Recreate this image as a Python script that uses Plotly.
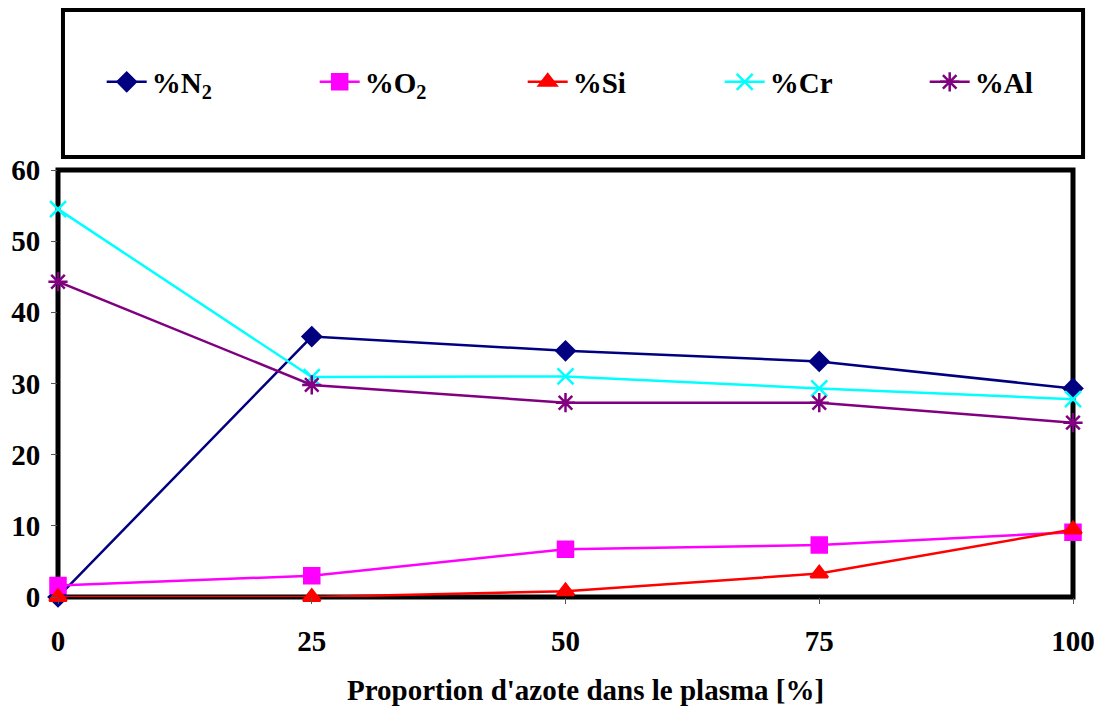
import plotly.graph_objects as go

x_vals = [0, 25, 50, 75, 100]
n2 = [0.0, 36.6, 34.6, 33.1, 29.3]
o2 = [1.6, 3.0, 6.7, 7.3, 9.1]
si = [0.0, 0.0, 0.8, 3.3, 9.5]
cr = [54.5, 30.9, 31.0, 29.3, 27.8]
al = [44.3, 29.8, 27.3, 27.3, 24.5]
x_title = "Proportion d'azote dans le plasma [%]"

series = [
    ("%N<sub>2</sub>", n2, "#000080", "diamond", 14),
    ("%O<sub>2</sub>", o2, "#FF00FF", "square", 15),
    ("%Si", si, "#FF0000", "triangle-up", 15),
    ("%Cr", cr, "#00FFFF", "x-thin-open", 16),
    ("%Al", al, "#800080", "asterisk-open", 16),
]
legend_centers = [127, 340, 548, 745, 950]  # page px of legend symbols

FONT = "Liberation Serif"
W, H = 1102, 709
OFF = 8  # browser body margin

fig = go.Figure()
legends = {}
for i, (name, vals, col, sym, size) in enumerate(series):
    lname = "legend" if i == 0 else f"legend{i+1}"
    fig.add_trace(go.Scatter(
        x=x_vals, y=vals, name=name, mode="lines+markers",
        line=dict(color=col, width=2.5),
        marker=dict(symbol=sym, size=size, color=col,
                    line=dict(color=col, width=2.5)),
        cliponaxis=False, legend=lname,
    ))
    legends[lname] = dict(
        orientation="h", xref="container", yref="container",
        x=(legend_centers[i] - 25.3 - OFF) / W, y=1 - (82 - OFF) / H,
        xanchor="left", yanchor="middle",
        font=dict(family=FONT, size=29, color="black", weight="bold"),
        bgcolor="rgba(0,0,0,0)", borderwidth=0, itemwidth=40)

fig.update_layout(
    width=W, height=H,
    paper_bgcolor="white", plot_bgcolor="white",
    margin=dict(l=58 - OFF, r=29 + OFF, t=170 - OFF, b=112 + OFF, autoexpand=False),
    showlegend=True,
    **legends,
    xaxis=dict(range=[0, 100], tickvals=x_vals, ticktext=[str(v) for v in x_vals],
               showgrid=False, zeroline=False, ticks="outside", ticklen=6,
               tickcolor="#555", tickwidth=1, automargin=False,
               ticklabelstandoff=12,
               tickfont=dict(family=FONT, size=29, color="black", weight="bold"),
               showline=False),
    yaxis=dict(range=[0, 60], dtick=10, showgrid=False, zeroline=False,
               ticks="outside", ticklen=6, tickcolor="#555", tickwidth=1,
               automargin=False, ticklabelstandoff=5,
               tickfont=dict(family=FONT, size=29, color="black", weight="bold"),
               showline=False),
    annotations=[
        dict(text=x_title, xref="paper", yref="paper", x=0.52, y=-0.218,
             xanchor="center", yanchor="middle", showarrow=False,
             font=dict(family=FONT, size=29, color="black", weight="bold")),
    ],
    shapes=[
        dict(type="rect", xref="paper", yref="paper", x0=0, x1=1, y0=0, y1=1,
             line=dict(color="black", width=5), layer="below"),
        dict(type="rect", xref="paper", yref="paper", x0=0.0049, x1=1.0099,
             y0=1.0304, y1=1.3747, line=dict(color="black", width=4)),
    ],
)

fig.write_html("out.html")
